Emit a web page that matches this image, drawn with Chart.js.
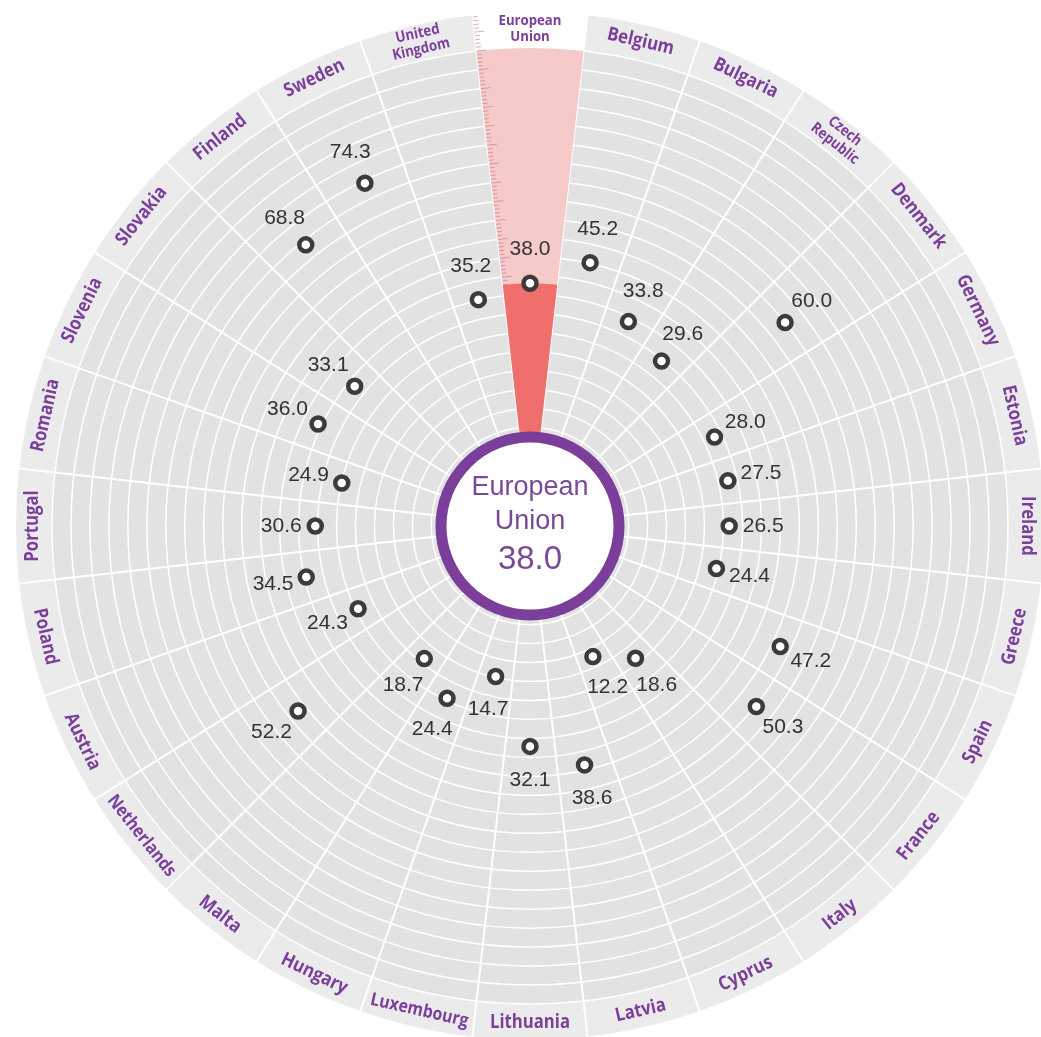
<!DOCTYPE html>
<html>
<head>
<meta charset="utf-8">
<title>European Union radial chart</title>
<script src="https://cdn.jsdelivr.net/npm/chart.js@4.4.1/dist/chart.umd.min.js"></script>
<style>
  html, body { margin: 0; padding: 0; background: #fff; }
  canvas { display: block; }
</style>
</head>
<body>
<canvas id="radial-chart" width="1041" height="1037"></canvas>
<script>
// categories, clockwise from the top
var countries = ['European Union', 'Belgium', 'Bulgaria', 'Czech Republic', 'Denmark', 'Germany', 'Estonia',
    'Ireland', 'Greece', 'Spain', 'France', 'Italy', 'Cyprus', 'Latvia', 'Lithuania', 'Luxembourg',
    'Hungary', 'Malta', 'Netherlands', 'Austria', 'Poland', 'Portugal', 'Romania', 'Slovenia',
    'Slovakia', 'Finland', 'Sweden', 'United Kingdom'];
var values = [38.0, 45.2, 33.8, 29.6, 60.0, 28.0, 27.5, 26.5, 24.4, 47.2, 50.3, 18.6, 12.2, 38.6,
    32.1, 14.7, 24.4, 18.7, 52.2, 24.3, 34.5, 30.6, 24.9, 36.0, 33.1, 68.8, 74.3, 35.2];
// radial axis: the hole in the middle sits below zero
var scaleMin = -26;
var scaleMax = 100;
var tickStep = 5;

var PURPLE = '#7b3f9b';
var BAND = 36;        // width of the outer ring holding the names
var LABEL_GAP = 34;   // value label distance from its point
var n = countries.length;

var radialDecor = {
    id: 'radialDecor',
    beforeDraw: function(chart) {
        var r = chart.scales.r2, ctx = chart.ctx;
        var cx = r.xCenter, cy = r.yCenter, R = r.drawingArea, outer = R + BAND;
        var half = Math.PI / n;
        ctx.save();
        ctx.fillStyle = '#ebebeb';
        ctx.beginPath();
        ctx.arc(cx, cy, outer, 0, Math.PI * 2);
        ctx.fill();
        // white band segment for the EU
        var c = r.getPointPosition(0, R).angle;
        ctx.fillStyle = '#ffffff';
        ctx.beginPath();
        ctx.arc(cx, cy, outer + 1, c - half, c + half);
        ctx.arc(cx, cy, R, c + half, c - half, true);
        ctx.closePath();
        ctx.fill();
        // separators through the band
        ctx.strokeStyle = '#ffffff';
        ctx.lineWidth = 2;
        var main = chart.scales.r;
        for (var i = 0; i < n; i++) {
            var p1 = main.getPointPosition(i, R);
            var p2 = main.getPointPosition(i, outer + 2);
            ctx.beginPath();
            ctx.moveTo(p1.x, p1.y);
            ctx.lineTo(p2.x, p2.y);
            ctx.stroke();
        }
        ctx.restore();
    },
    afterDatasetsDraw: function(chart) {
        var r = chart.scales.r2, main = chart.scales.r, ctx = chart.ctx;
        var cx = r.xCenter, cy = r.yCenter;
        ctx.save();
        // little ruler on the left edge of the EU wedge
        var edge = main.getPointPosition(0, 1).angle;
        ctx.strokeStyle = 'rgba(190, 105, 130, 0.55)';
        ctx.lineWidth = 1;
        for (var v = Math.ceil(values[0]); v <= scaleMax + 9; v++) {
            var d = main.getDistanceFromCenterForValue(v);
            var x = cx + Math.cos(edge) * d, y = cy + Math.sin(edge) * d;
            var len = (v % 5 === 0) ? 10 : 5;
            ctx.beginPath();
            ctx.moveTo(x, y);
            ctx.lineTo(x - Math.sin(edge) * len, y + Math.cos(edge) * len);
            ctx.stroke();
        }
        // centre disc
        ctx.beginPath();
        ctx.arc(cx, cy, 89, 0, Math.PI * 2);
        ctx.fillStyle = '#ffffff';
        ctx.fill();
        ctx.lineWidth = 11;
        ctx.strokeStyle = PURPLE;
        ctx.stroke();
        ctx.fillStyle = '#7a4a97';
        ctx.textAlign = 'center';
        ctx.textBaseline = 'middle';
        var words = countries[0].split(' ');
        ctx.font = '27px "Liberation Sans", Arial, sans-serif';
        ctx.fillText(words[0], cx, cy - 38);
        ctx.fillText(words[1], cx, cy - 4);
        ctx.font = '33px "Liberation Sans", Arial, sans-serif';
        ctx.fillText(values[0].toFixed(1), cx, cy + 34);
        // value labels, pushed out along the radius
        ctx.fillStyle = '#333333';
        ctx.font = '21px "Liberation Sans", Arial, sans-serif';
        values.forEach(function(val, i) {
            var p = r.getPointPosition(i, r.getDistanceFromCenterForValue(val) + LABEL_GAP);
            ctx.fillText(val.toFixed(1), p.x, p.y);
        });
        ctx.restore();
    },
    afterDraw: function(chart) {
        var r = chart.scales.r2, ctx = chart.ctx;
        var mid = r.drawingArea + BAND / 2 + 1;
        ctx.save();
        ctx.fillStyle = PURPLE;
        ctx.textAlign = 'center';
        ctx.textBaseline = 'middle';
        countries.forEach(function(name, i) {
            var p = r.getPointPosition(i, mid);
            var theta = r.getIndexAngle(i);
            var rot = theta;
            if (theta > Math.PI / 2 + 1e-6 && theta < Math.PI * 1.5 - 1e-6) rot = theta - Math.PI;
            ctx.save();
            ctx.translate(p.x, p.y);
            ctx.rotate(rot);
            ctx.scale(0.88, 1);
            var parts = name.split(' ');
            if (parts.length > 1) {
                ctx.font = 'bold 15px "Open Sans", sans-serif';
                ctx.fillText(parts[0], 0, -8);
                ctx.fillText(parts.slice(1).join(' '), 0, 8);
            } else {
                var size = 19;
                ctx.font = 'bold ' + size + 'px "Open Sans", sans-serif';
                while (ctx.measureText(name).width > 118 && size > 12) {
                    size -= 1;
                    ctx.font = 'bold ' + size + 'px "Open Sans", sans-serif';
                }
                ctx.fillText(name, 0, 0);
            }
            ctx.restore();
        });
        ctx.restore();
    }
};

new Chart(document.getElementById('radial-chart'), {
    type: 'polarArea',
    data: {
        labels: countries,
        datasets: [{
            type: 'radar',
            rAxisID: 'r2',
            data: values,
            showLine: false,
            fill: false,
            backgroundColor: 'rgba(0,0,0,0)',
            pointRadius: 6.5,
            pointHoverRadius: 6.5,
            pointBorderWidth: 4.5,
            pointBackgroundColor: '#ffffff',
            pointBorderColor: '#3b3b3b'
        }, {
            // the EU bar
            data: [values[0]],
            angle: 360 / countries.length,
            backgroundColor: '#ee6f6b',
            borderWidth: 0
        }, {
            // full-length backdrop of the EU bar
            data: [scaleMax],
            angle: 360 / countries.length,
            backgroundColor: '#f7caca',
            borderWidth: 0
        }]
    },
    options: {
        responsive: false,
        animation: false,
        events: [],
        layout: { padding: { left: 52, right: 33, top: 48, bottom: 33 } },
        plugins: { legend: { display: false }, tooltip: { enabled: false } },
        scales: {
            r: {
                min: scaleMin,
                max: scaleMax,
                startAngle: -180 / countries.length,
                backgroundColor: '#e2e2e2',
                grid: { circular: true, color: '#ffffff', lineWidth: 1.5 },
                angleLines: { display: true, color: '#ffffff', lineWidth: 2 },
                ticks: { display: false, stepSize: tickStep },
                pointLabels: { display: false }
            },
            r2: {
                type: 'radialLinear',
                display: false,
                min: scaleMin,
                max: scaleMax,
                startAngle: 0,
                ticks: { display: false, stepSize: tickStep },
                pointLabels: { display: false }
            }
        }
    },
    plugins: [radialDecor]
});
</script>
</body>
</html>
